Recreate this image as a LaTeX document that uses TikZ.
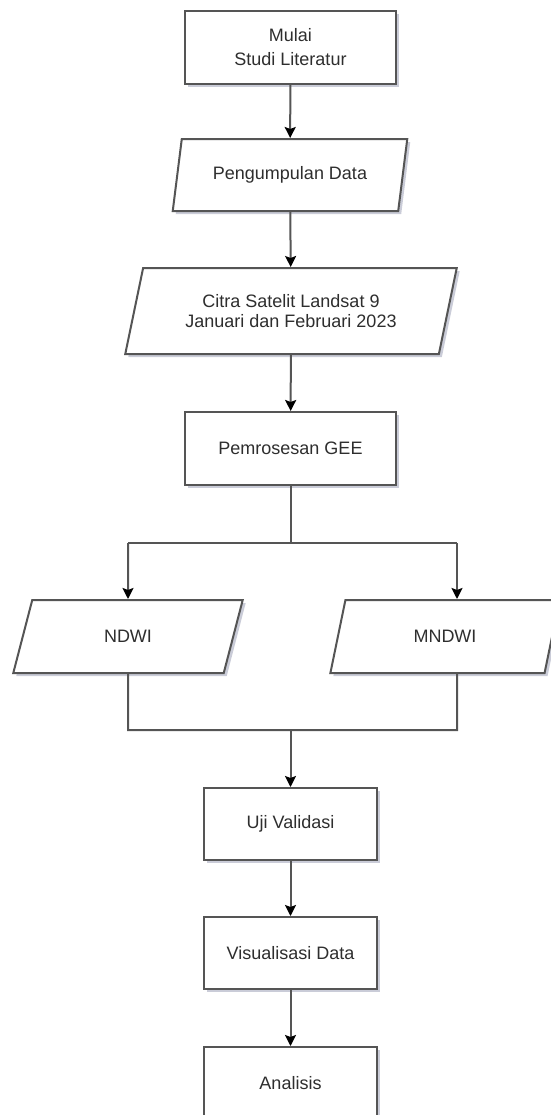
\documentclass[tikz,border=0pt]{standalone}
\usepackage{fontspec}
\setsansfont{Liberation Sans}
\usetikzlibrary{arrows.meta,shapes.geometric,shadows}
\definecolor{fcLine}{HTML}{555555}
\definecolor{fcText}{HTML}{2E2E2E}
\definecolor{fcShadow}{HTML}{8A8FA8}
\tikzset{
  fc shape/.style={draw=fcLine, fill=white, line width=1pt, inner sep=0pt, align=center,
    font=\sffamily\fontsize{9}{10}\selectfont, text=fcText,
    drop shadow={shadow xshift=1.5pt, shadow yshift=-1.5pt, opacity=0.45, fill=fcShadow}},
  fc box/.style={fc shape, rectangle},
  fc data/.style={fc shape, trapezium, trapezium left angle=69, trapezium right angle=111, trapezium stretches=true},
  fc line/.style={draw=fcLine, line width=1pt},
  fc arrow/.style={fc line, -{Stealth[length=5.5pt,width=5.5pt,inset=1pt,fill=black,color=black]}},
}
\begin{document}
\begin{tikzpicture}[x=0.5pt,y=-0.5pt]
\useasboundingbox(0,0)rectangle(551,1115);
% main column
\node[fc box,minimum width=105.5pt,minimum height=36.5pt](start)at(290.5,47){Mulai\\[2pt]Studi Literatur};
\node[fc data,minimum width=118pt,minimum height=36pt](collect)at(290,175){Pengumpulan Data};
\node[fc data,minimum width=166pt,minimum height=43pt](landsat)at(291,311){Citra Satelit Landsat 9\\Januari dan Februari 2023};
\node[fc box,minimum width=105.5pt,minimum height=36.5pt](gee)at(290.5,448.5){Pemrosesan GEE};
% two indices
\node[fc data,minimum width=115pt,minimum height=36.5pt](ndwi)at(128,636.5){NDWI};
\node[fc data,minimum width=115pt,minimum height=36.5pt](mndwi)at(445,636.5){MNDWI};
\node[fc box,minimum width=86.5pt,minimum height=36pt](uji)at(290.5,824){Uji Validasi};
\node[fc box,minimum width=86.5pt,minimum height=36pt](visual)at(290.5,953){Visualisasi Data};
\node[fc box,minimum width=86.5pt,minimum height=36pt](analisis)at(290.5,1083){Analisis};
\coordinate(splitL)at(128,543);\coordinate(splitR)at(457,543);
\coordinate(joinL)at(128,730);\coordinate(joinR)at(457,730);
% connectors
\draw[fc arrow](start)--(collect);
\draw[fc arrow](collect)--(landsat);
\draw[fc arrow](landsat)--(gee);
\draw[fc line](gee.south)--(gee.south|-splitL);
\draw[fc line](splitL)--(splitR);
\draw[fc arrow](splitL)--(ndwi.north);
\draw[fc arrow](splitR)--(splitR|-mndwi.north);
\draw[fc line](ndwi.south)--(joinL)--(joinR)--(joinR|-mndwi.south);
\draw[fc arrow](uji.north|-joinL)--(uji.north);
\draw[fc arrow](uji)--(visual);
\draw[fc arrow](visual)--(analisis);
\end{tikzpicture}
\end{document}
